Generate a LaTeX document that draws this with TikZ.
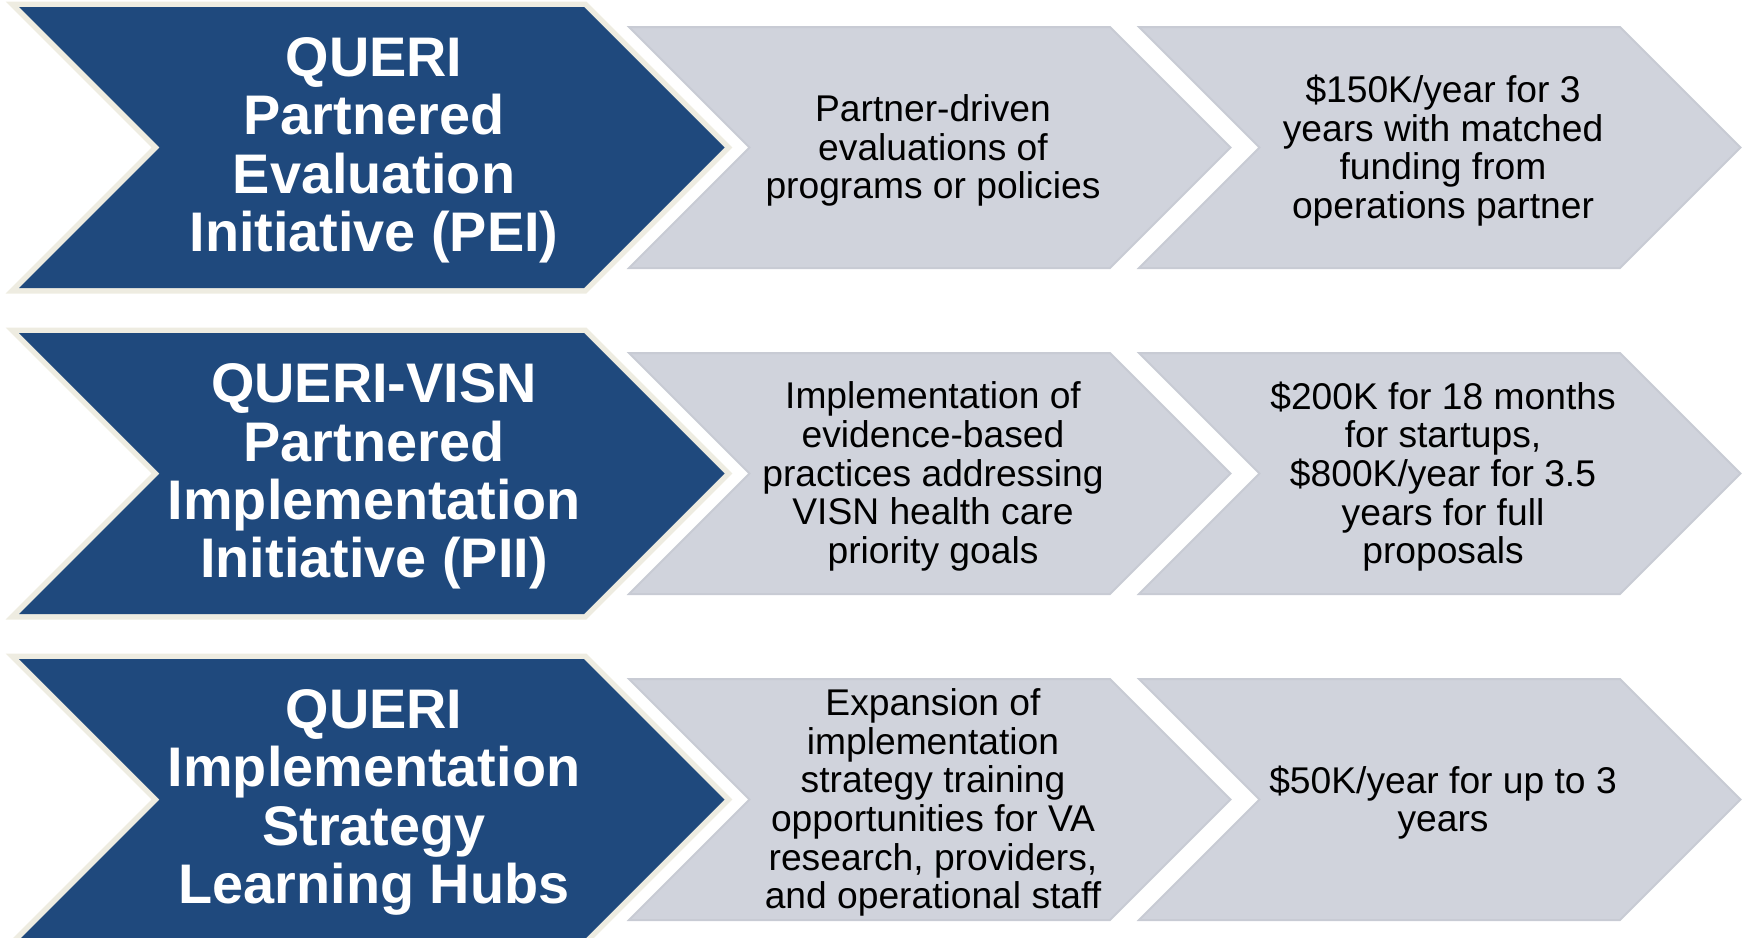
\documentclass[tikz,border=0pt]{standalone}
\usepackage{fontspec}
\setmainfont{Liberation Sans}
\definecolor{qBlue}{RGB}{31,73,125}
\definecolor{qCream}{RGB}{238,236,225}
\definecolor{qGray}{RGB}{208,211,220}
\definecolor{qEdge}{RGB}{200,203,212}

\begin{document}
\begin{tikzpicture}[x=0.5pt,y=-0.5pt,
  head/.style={fill=qBlue,preaction={draw=qCream,line width=5.5pt,line join=miter}},
  body/.style={fill=qGray,draw=qEdge,line width=1pt},
  headtext/.style={text=white,align=center,font=\fontsize{27.9}{29.2}\selectfont\bfseries},
  bodytext/.style={align=center,font=\fontsize{18.6}{19.3}\selectfont}]
\useasboundingbox (0,0) rectangle (1743,937);
% three rows 326 apart: dark program chevron, then two grey ones
\foreach \r in {0,1,2} {
\begin{scope}[shift={(0,326*\r)}]
\path[head] (19,7)--(584,7)--(724.5,147.5)--(584,288)--(19,288)--(159.5,147.5)--cycle;
\foreach \x in {629,1139}
  \path[body] (\x,27)--({\x+481},27)--({\x+601.5},147.5)--({\x+481},268)--(\x,268)--({\x+120.5},147.5)--cycle;
\end{scope}
}
% PEI
\node[headtext] (pei) at (374,150.5) {QUERI\\Partnered\\Evaluation\\Initiative (PEI)};
\node[bodytext] (pei-aim) at (933,150.5) {Partner-driven\\evaluations of\\programs or policies};
\node[bodytext] (pei-fund) at (1443,150.5) {\$150K/year for 3\\years with matched\\funding from\\operations partner};
% PII
\node[headtext] (pii) at (374,476.5) {QUERI-VISN\\Partnered\\Implementation\\Initiative (PII)};
\node[bodytext] (pii-aim) at (933,476.5) {Implementation of\\evidence-based\\practices addressing\\VISN health care\\priority goals};
\node[bodytext] (pii-fund) at (1443,476.5) {\$200K for 18 months\\for startups,\\\$800K/year for 3.5\\years for full\\proposals};
% learning hubs
\node[headtext] (hub) at (374,802.5) {QUERI\\Implementation\\Strategy\\Learning Hubs};
\node[bodytext] (hub-aim) at (933,802.5) {Expansion of\\implementation\\strategy training\\opportunities for VA\\research, providers,\\and operational staff};
\node[bodytext] (hub-fund) at (1443,802.5) {\$50K/year for up to 3\\years};
\end{tikzpicture}
\end{document}
